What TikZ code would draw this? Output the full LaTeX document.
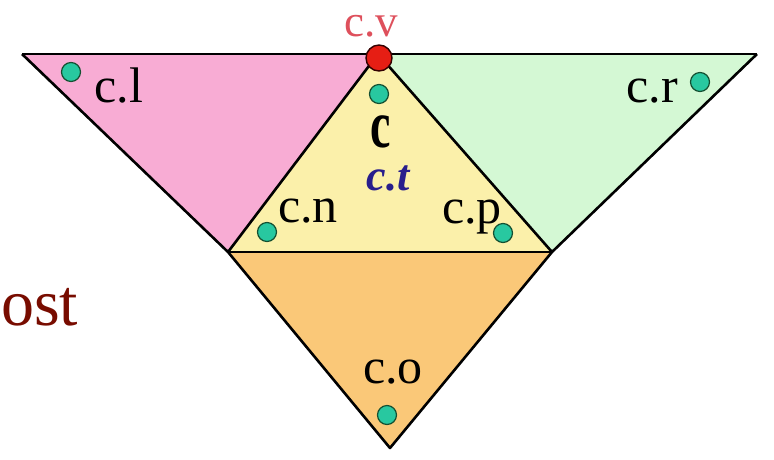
\documentclass[tikz,border=0pt]{standalone}
\usepackage{fontspec}
\setmainfont{Liberation Serif}
\definecolor{pinkf}{RGB}{248,172,212}
\definecolor{greenf}{RGB}{212,248,212}
\definecolor{yellowf}{RGB}{251,240,170}
\definecolor{orangef}{RGB}{250,200,120}
\definecolor{tealdot}{RGB}{40,200,160}
\definecolor{tealedge}{RGB}{20,80,50}
\definecolor{reddot}{RGB}{230,30,20}
\definecolor{cvcol}{RGB}{222,80,92}
\definecolor{ctcol}{RGB}{40,30,140}
\definecolor{ostcol}{RGB}{120,12,0}
\begin{document}
\begin{tikzpicture}[x=1pt,y=-1pt,
  edge/.style={draw=black,line width=2.6pt,line join=round},
  pt/.style={circle,fill=tealdot,draw=tealedge,line width=1.2pt,minimum size=19pt,inner sep=0pt},
  lab/.style={font=\fontsize{50}{50}\selectfont,anchor=base,inner sep=0pt}]
\useasboundingbox (0,0) rectangle (774,459);
\coordinate (L) at (22,54);
\coordinate (V) at (378,54);
\coordinate (R) at (757,54);
\coordinate (N) at (228,252);
\coordinate (P) at (552,252);
\coordinate (O) at (390,448);
\fill[pinkf] (L) -- (V) -- (N) -- cycle;
\fill[greenf] (V) -- (R) -- (P) -- cycle;
\fill[yellowf] (V) -- (N) -- (P) -- cycle;
\fill[orangef] (N) -- (P) -- (O) -- cycle;
\draw[edge] (L) -- (R);
\draw[edge] (L) -- (N) -- (O) -- (P) -- (R);
\draw[edge] (N) -- (V) -- (P);
\draw[edge] (N) -- (P);
\node[pt] (dl) at (71,72) {};
\node[pt] (dr) at (700,82) {};
\node[pt] (dc) at (379,94) {};
\node[pt] (dn) at (267,232) {};
\node[pt] (dp) at (503,233) {};
\node[pt] (do) at (387,415) {};
\node[circle,fill=reddot,draw=black!80!red,line width=1.4pt,minimum size=26pt,inner sep=0pt] (dv) at (379,58) {};
\node[lab,text=cvcol,font=\fontsize{45}{45}\selectfont,text height=21pt] (tv) at (371,36) {c.v};
\node[lab] (tl) at (119,102) {c.l};
\node[lab] (tr) at (652,102) {c.r};
\node[lab] (tn) at (308,222) {c.n};
\node[lab] (tp) at (472,223) {c.p};
\node[lab] (to) at (393,383) {c.o};
\node[lab,font=\fontsize{44}{44}\selectfont\bfseries\itshape,text=ctcol] (tt) at (388,190) {c.t};
\node[lab,font=\fontsize{54}{54}\selectfont\bfseries,yscale=1.25,xscale=0.85] (tc) at (381,147) {c};
\node[anchor=base west,inner sep=0pt,font=\fontsize{66}{66}\selectfont,text=ostcol] (ost) at (1,325) {ost};
\end{tikzpicture}
\end{document}
